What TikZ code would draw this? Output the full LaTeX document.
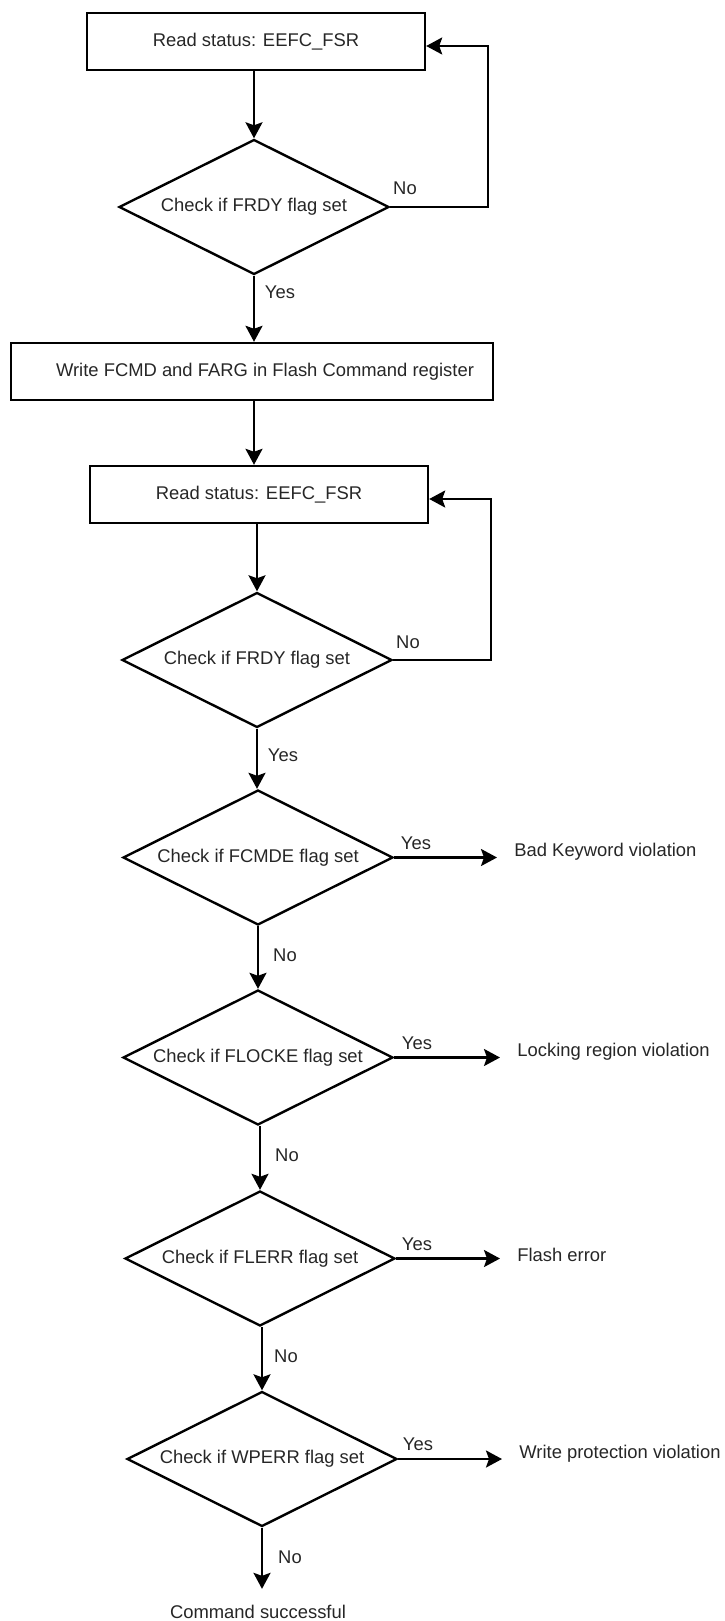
\documentclass[tikz,border=0pt]{standalone}
\usepackage{fontspec}
\setmainfont{Liberation Sans}
\usetikzlibrary{arrows.meta,shapes.geometric}
\begin{document}
\begin{tikzpicture}[x=0.5pt,y=-0.5pt,
  every node/.style={font=\fontsize{9.2pt}{11pt}\selectfont, text=black!85},
  box/.style={draw=black,line width=1.2pt,minimum height=28.5pt,inner sep=0pt},
  dec/.style={draw=black,line width=1.2pt,shape=diamond,aspect=2,minimum width=135pt,minimum height=67.5pt,inner sep=0pt},
  lbl/.style={inner sep=0pt},
  arr/.style={draw=black,line width=1.2pt,-{Stealth[length=8pt,width=8.5pt,inset=1.5pt]}},
]
\useasboundingbox (0,0) rectangle (724,1621);
% nodes
\node[box,minimum width=169pt] (b1) at (256,41.5) {Read status: EEFC\_FSR};
\node[dec] (d1) at (254,207) {Check if FRDY flag set};
\node[box,minimum width=241pt] (b2) at (252,371.5) {};
\node[lbl] (b2t) at (265,372) {Write FCMD and FARG in Flash Command register};
\node[box,minimum width=169pt] (b3) at (259,494.5) {Read status: EEFC\_FSR};
\node[dec] (d2) at (257,660) {Check if FRDY flag set};
\node[dec] (d3) at (258,857.5) {Check if FCMDE flag set};
\node[dec] (d4) at (258,1057.5) {Check if FLOCKE flag set};
\node[dec] (d5) at (260,1258.5) {Check if FLERR flag set};
\node[dec] (d6) at (262,1459) {Check if WPERR flag set};
\node[lbl,anchor=west] (r3) at (514,852) {Bad Keyword violation};
\node[lbl,anchor=west] (r4) at (517,1052) {Locking region violation};
\node[lbl,anchor=west] (r5) at (517,1255) {Flash error};
\node[lbl,anchor=west] (r6) at (519,1454) {Write protection violation};
\node[lbl] (cs) at (258,1612) {Command successful};
% labels
\node[lbl] (n1) at (405,188) {No};
\node[lbl] (y1) at (280,292) {Yes};
\node[lbl] (n2) at (408,642) {No};
\node[lbl] (y2) at (283,755) {Yes};
\node[lbl] (y3) at (416,843) {Yes};
\node[lbl] (no3) at (285,955) {No};
\node[lbl] (y4) at (417,1043) {Yes};
\node[lbl] (no4) at (287,1155) {No};
\node[lbl] (y5) at (417,1244) {Yes};
\node[lbl] (no5) at (286,1356) {No};
\node[lbl] (y6) at (418,1444) {Yes};
\node[lbl] (no6) at (290,1557) {No};
% connectors
\coordinate (fb1) at (488,46);
\coordinate (fb2) at (491,499);
\draw[arr] (d1.north |- b1.south) -- (d1.north);
\draw[arr] (d1.east) -| (fb1) -- (fb1 -| b1.east);
\draw[arr] (d1.south) -- (d1.south |- b2.north);
\draw[arr] (d1.south |- b2.south) -- (d1.south |- b3.north);
\draw[arr] (d2.north |- b3.south) -- (d2.north);
\draw[arr] (d2.east) -| (fb2) -- (fb2 -| b3.east);
\draw[arr] (d2.south) -- (d2.south |- d3.north);
\draw[arr] (d3.south) -- (d4.north);
\draw[arr] (d5.north |- d4.south) -- (d5.north);
\draw[arr] (d6.north |- d5.south) -- (d6.north);
\draw[arr,shorten >=8pt] (d6.south) -- (d6.south |- cs.north);
\draw[arr,shorten >=8.5pt] (d3.east) -- (d3.east -| r3.west);
\draw[arr,shorten >=8.5pt] (d4.east) -- (d4.east -| r4.west);
\draw[arr,shorten >=8.5pt] (d5.east) -- (d5.east -| r5.west);
\draw[arr,shorten >=8.5pt] (d6.east) -- (d6.east -| r6.west);
\end{tikzpicture}
\end{document}
